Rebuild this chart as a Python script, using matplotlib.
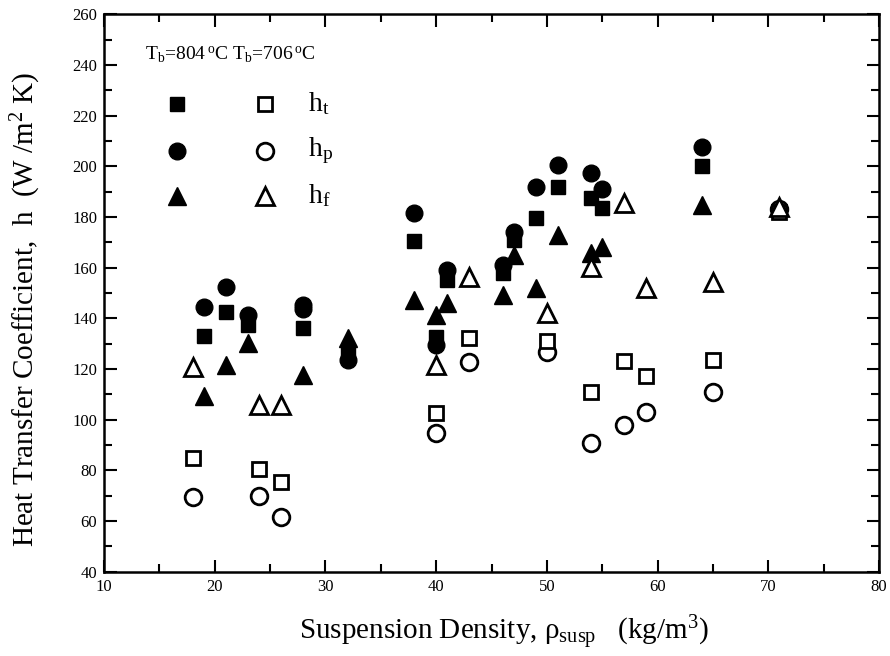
import matplotlib
matplotlib.use("Agg")
import matplotlib.pyplot as plt
from matplotlib.ticker import MultipleLocator

plt.rcParams["font.family"] = ["Liberation Serif", "DejaVu Serif"]
plt.rcParams["mathtext.fontset"] = "custom"
plt.rcParams["mathtext.rm"] = "Liberation Serif"
plt.rcParams["mathtext.it"] = "Liberation Serif:italic"
plt.rcParams["mathtext.bf"] = "Liberation Serif:bold"

# Bed temperature 804 C (filled symbols)
rho_804 = [19, 21, 23, 28, 32, 38, 40, 41, 46, 47, 49, 51, 54, 55, 64]
ht_804 = [133, 142.5, 137.5, 136, 126.3, 170.5, 132.6, 155, 158, 171, 179.5, 191.8, 187.5, 183.5, 200]
hp_804 = [144.5, 152.4, 141.3, 145.2, 123.5, 181.5, 129.5, 159, 161, 174, 192, 200.5, 197.4, 191, 207.6]
hf_804 = [109.3, 121.5, 130.2, 117.6, 132.2, 147.2, 141.3, 146, 149.2, 165, 152, 172.9, 165.7, 168, 184.7]
# repeated h_p reading at 28 kg/m3
rho_804_extra = [28]
hp_804_extra = [143.6]

# Bed temperature 706 C (open symbols)
rho_706 = [18, 24, 26, 40, 43, 50, 54, 57, 59, 65, 71]
ht_706 = [84.8, 80.5, 75.4, 102.6, 132.2, 131, 111, 123.1, 117.2, 123.5, 182]
hp_706 = [69.5, 69.8, 61.6, 94.7, 122.8, 126.7, 90.8, 97.9, 103, 111, 183]
hf_706 = [120.8, 105.8, 105.8, 121.5, 156.3, 142, 160.2, 185.5, 151.9, 154.3, 183.8]

fig = plt.figure(figsize=(8.9, 6.56), dpi=100)
ax = fig.add_axes([0.1169, 0.1287, 0.8707, 0.8495])

sq = dict(marker="s", ms=10, linestyle="none")
ci = dict(marker="o", ms=12, linestyle="none")
tr = dict(marker="^", ms=13, linestyle="none")

ax.plot(rho_804, ht_804, color="black", **sq)
ax.plot(rho_804, hp_804, color="black", **ci)
ax.plot(rho_804_extra, hp_804_extra, color="black", **ci)
ax.plot(rho_804, hf_804, color="black", **tr)

open_kw = dict(mfc="white", mec="black", mew=2.0)
ax.plot(rho_706, hp_706, **open_kw, **ci)
ax.plot(rho_706, ht_706, **open_kw, **sq)
ax.plot(rho_706, hf_706, **open_kw, **tr)

ax.set_xlim(10, 80)
ax.set_ylim(40, 260)
ax.xaxis.set_major_locator(MultipleLocator(10))
ax.xaxis.set_minor_locator(MultipleLocator(5))
ax.yaxis.set_major_locator(MultipleLocator(20))
ax.yaxis.set_minor_locator(MultipleLocator(10))
ax.tick_params(which="both", direction="in", top=True, right=True, labelsize=12,
               width=1.5, pad=5)
ax.tick_params(which="major", length=9)
ax.tick_params(which="minor", length=6)
for s in ax.spines.values():
    s.set_linewidth(1.8)

ax.set_xlabel("Suspension Density, ρ$_{\\mathrm{susp}}$   (kg/m$^3$)", fontsize=21)
ax.set_ylabel(r"Heat Transfer Coefficient,  h  (W /m$^2$ K)", fontsize=21)
ax.xaxis.set_label_coords(0.516, -0.075)
ax.yaxis.set_label_coords(-0.079, 0.471)

# key drawn inside the axes
tf = ax.transAxes
ax.text(0.053, 0.927, r"T$_\mathrm{b}$=804$\,^\mathrm{o}$C T$_\mathrm{b}$=706$\,^\mathrm{o}$C",
        transform=tf, fontsize=14, va="center", ha="left")
rows = [0.839, 0.755, 0.674]
names = [r"h$_\mathrm{t}$", r"h$_\mathrm{p}$", r"h$_\mathrm{f}$"]
styles = [sq, ci, tr]
for y, name, st in zip(rows, names, styles):
    ax.plot([0.094], [y], transform=tf, color="black", clip_on=False, **st)
    ax.plot([0.208], [y], transform=tf, clip_on=False, **open_kw, **st)
    ax.text(0.263, y, name, transform=tf, fontsize=20, va="center", ha="left")

fig.savefig("out.png", dpi=100)
